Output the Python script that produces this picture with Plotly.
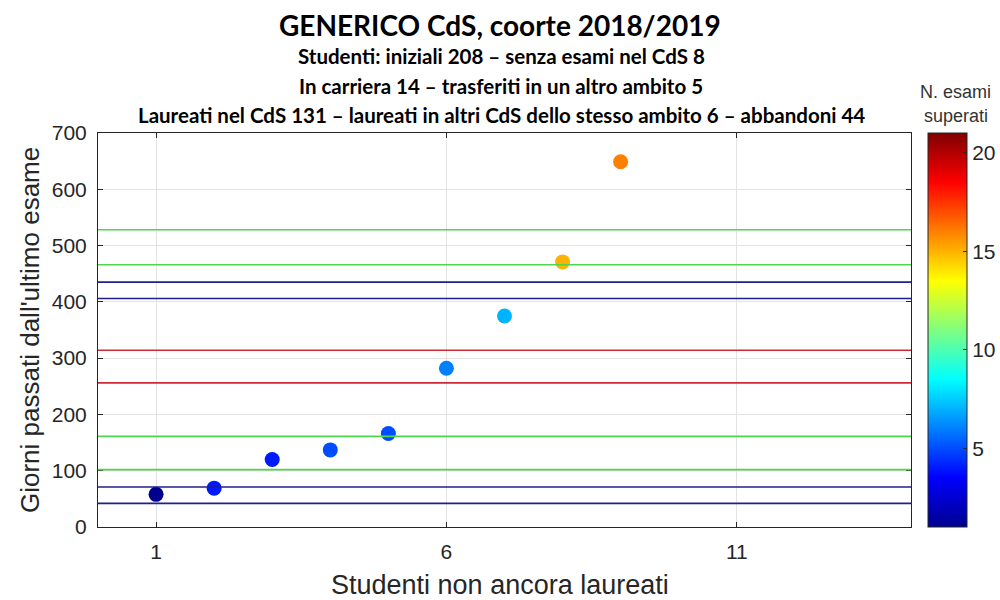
import plotly.graph_objects as go

# ---- data ----
students = [1, 2, 3, 4, 5, 6, 7, 8, 9]
days_since_last_exam = [58, 69, 120, 137, 166, 282, 375, 471, 649]
exams_passed = [1, 4, 4, 5, 5, 6, 7, 15, 16]

ref_levels = [528, 466, 435, 406, 314, 256, 161, 102, 71, 42]
ref_colors = ["#4fd64f", "#4fd64f", "#1f1f8f", "#1f1f8f", "#cc2a36", "#cc2a36",
              "#4fd64f", "#4fd64f", "#1f1f8f", "#1f1f8f"]

x_ticks = [1, 6, 11]
y_ticks = [0, 100, 200, 300, 400, 500, 600, 700]
cbar_ticks = [5, 10, 15, 20]

title_main = "GENERICO CdS, coorte 2018/2019"
subtitles = [
    "Studenti: iniziali 208 – senza esami nel CdS 8",
    "In carriera 14 – trasferiti in un altro ambito 5",
    "Laureati nel CdS 131 – laureati in altri CdS dello stesso ambito 6 – abbandoni 44",
]

jet = [[0.0, "#000090"], [0.125, "#0000ff"], [0.375, "#00ffff"],
       [0.625, "#ffff00"], [0.875, "#ff0000"], [1.0, "#800000"]]

AX = "#262626"
FONT = "Liberation Sans"
TFONT = "Lato"

L, R, T, B = 98, 911, 133, 527
PW, PH = R - L, B - T


def py(ypx):
    return (B - ypx) / PH


def px(xpx):
    return (xpx - L) / PW


fig = go.Figure()
fig.add_trace(go.Scatter(
    x=students, y=days_since_last_exam, mode="markers",
    marker=dict(size=15, color=exams_passed, colorscale=jet, cmin=1, cmax=21,
                line=dict(width=0),
                colorbar=dict(x=px(928), xanchor="left", xref="paper",
                              y=0.5, yanchor="middle", len=1, lenmode="fraction",
                              thickness=39, thicknessmode="pixels",
                              xpad=0, ypad=0, outlinewidth=1, outlinecolor=AX,
                              tickvals=cbar_ticks, ticks="inside", ticklen=4,
                              tickcolor=AX,
                              tickfont=dict(family=FONT, size=21, color=AX))),
    showlegend=False, hoverinfo="x+y"))

for lvl, col in zip(ref_levels, ref_colors):
    fig.add_shape(type="line", xref="paper", x0=0, x1=1, yref="y", y0=lvl, y1=lvl,
                  line=dict(color=col, width=1.6), layer="above")

ann = []
ann.append(dict(text="<b>" + title_main + "</b>", xref="paper", yref="paper",
                x=px(500), y=py(25), xanchor="center", yanchor="middle",
                showarrow=False, font=dict(family=TFONT, size=28, color="black")))
for s, yy in zip(subtitles, [56, 86, 115]):
    ann.append(dict(text="<b>" + s + "</b>", xref="paper", yref="paper",
                    x=px(501), y=py(yy), xanchor="center", yanchor="middle",
                    showarrow=False, font=dict(family=TFONT, size=20.5, color="black")))
# colorbar title
for s, yy in zip(["N. esami", "superati"], [92, 116]):
    ann.append(dict(text=s, xref="paper", yref="paper",
                    x=px(956), y=py(yy),
                    xanchor="center", yanchor="middle", showarrow=False,
                    font=dict(family=FONT, size=18, color="#333333")))
# axis titles
ann.append(dict(text="Giorni passati dall'ultimo esame", xref="paper", yref="paper",
                x=px(30), y=py(330), xanchor="center", yanchor="middle",
                textangle=-90, showarrow=False,
                font=dict(family=FONT, size=26, color=AX)))
ann.append(dict(text="Studenti non ancora laureati", xref="paper", yref="paper",
                x=px(500), y=py(585), xanchor="center", yanchor="middle",
                showarrow=False, font=dict(family=FONT, size=27, color=AX)))

fig.update_layout(
    width=1000, height=600,
    margin=dict(l=L, r=1000 - R, t=T, b=600 - B, autoexpand=False),
    paper_bgcolor="white", plot_bgcolor="white",
    annotations=ann,
    xaxis=dict(range=[0, 14], tickvals=x_ticks, ticks="inside", ticklen=5,
               tickcolor=AX, showline=True, linecolor=AX, linewidth=1, mirror="ticks",
               showgrid=True, gridcolor="#e3e3e3", gridwidth=1, zeroline=False,
               tickfont=dict(family=FONT, size=21, color=AX), ticklabelstandoff=6),
    yaxis=dict(range=[0, 700], tickvals=y_ticks, ticks="inside", ticklen=5,
               tickcolor=AX, showline=True, linecolor=AX, linewidth=1, mirror="ticks",
               showgrid=True, gridcolor="#e3e3e3", gridwidth=1, zeroline=False,
               tickfont=dict(family=FONT, size=21, color=AX), ticklabelstandoff=6),
)

fig.write_html("out.html", config={"displayModeBar": False},
               post_script="document.body.style.margin='0px';")
